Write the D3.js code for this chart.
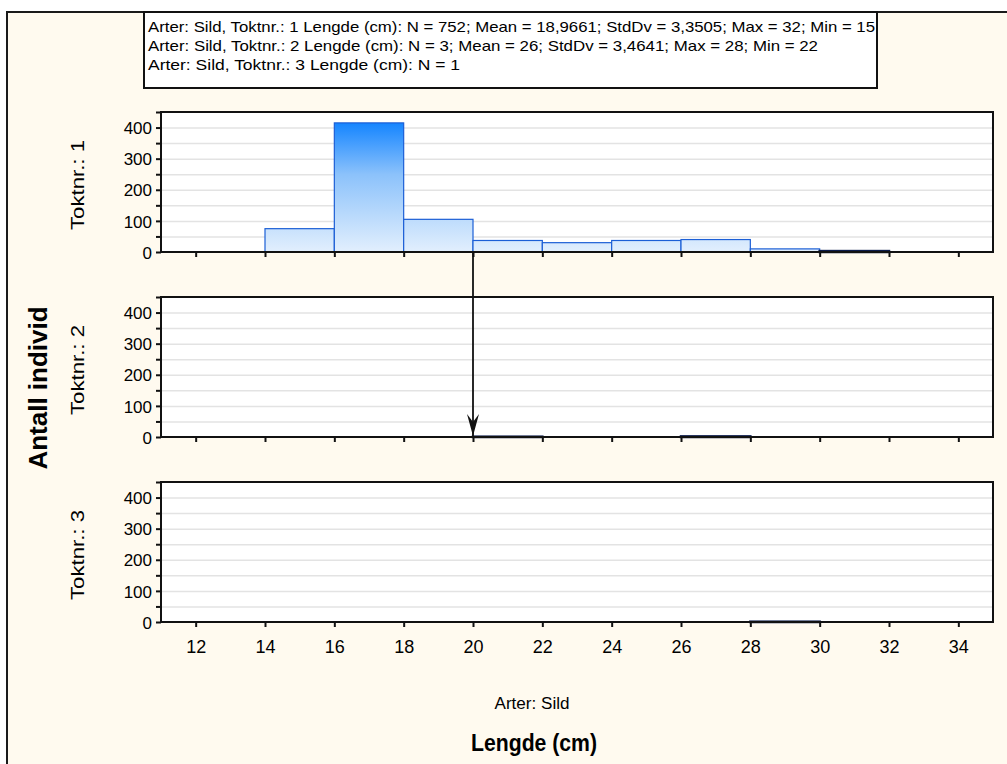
<!DOCTYPE html>
<html><head><meta charset="utf-8">
<script src="https://cdn.jsdelivr.net/npm/d3@7"></script>
<style>html,body{margin:0;padding:0;background:#fff;}svg{display:block;font-family:Arial,"Liberation Sans",sans-serif;}</style>
</head><body>
<script>
// ---- data ----
const binStarts = [12,14,16,18,20,22,24,26,28,30,32];
const binWidth = 2;
const panelNames = ["Toktnr.: 1","Toktnr.: 2","Toktnr.: 3"];
const toktnr1 = [0,75,415,105,37,30,37,40,10,3,0];
const toktnr2 = [0,0,0,0,1,0,0,2,0,0,0];
const toktnr3 = [0,0,0,0,0,0,0,0,1,0,0];
const xTicks = [12,14,16,18,20,22,24,26,28,30,32,34];
const yTickLabels = [0,100,200,300,400];
const legendLines = [
  "Arter: Sild, Toktnr.: 1 Lengde (cm):   N = 752; Mean = 18,9661; StdDv = 3,3505; Max = 32; Min = 15",
  "Arter: Sild, Toktnr.: 2 Lengde (cm):   N = 3; Mean = 26; StdDv = 3,4641; Max = 28; Min = 22",
  "Arter: Sild, Toktnr.: 3 Lengde (cm):  N = 1"
];
const legendWidths = [727, 670, 312];
const xTitle = "Lengde (cm)";
const subTitle = "Arter: Sild";
const yTitle = "Antall individ";
const arrowAt = 20;

const series = [toktnr1, toktnr2, toktnr3];
const W = 1007, H = 764;
const svg = d3.select("body").append("svg").attr("width", W).attr("height", H);

// background frame
svg.append("rect").attr("x",0).attr("y",0).attr("width",W).attr("height",H).attr("fill","#fff");
svg.append("rect").attr("x",7).attr("y",12).attr("width",W+10).attr("height",H+10)
  .attr("fill","#fffaef").attr("stroke","#1a1a1a").attr("stroke-width",2);

const left = 161, right = 993, pH = 140;
const panelTops = [112, 297, 482];
const x = d3.scaleLinear().domain([11,35]).range([left,right]);

const defs = svg.append("defs");
defs.append("marker").attr("id","arrowhead").attr("viewBox","0 0 12 22").attr("refX",6).attr("refY",22)
  .attr("markerWidth",12).attr("markerHeight",22).attr("markerUnits","userSpaceOnUse").attr("orient","0")
  .append("path").attr("d","M0,0 L6,8 L12,0 L6,22 Z").attr("fill","#111");

series.forEach((vals, i) => {
  const top = panelTops[i];
  const y = d3.scaleLinear().domain([0,450]).range([top+pH, top]);
  const g = svg.append("g");
  g.append("rect").attr("x",left).attr("y",top).attr("width",right-left).attr("height",pH).attr("fill","#fff");
  // grid
  g.selectAll("line.grid").data(d3.range(50,450,50)).enter().append("line")
    .attr("x1",left).attr("x2",right).attr("y1",d=>y(d)+0.5).attr("y2",d=>y(d)+0.5)
    .attr("stroke","#e3e3e3").attr("stroke-width",1.5);
  // gradient
  const gid = "grad"+i;
  const lg = defs.append("linearGradient").attr("id",gid).attr("gradientUnits","userSpaceOnUse")
    .attr("x1",0).attr("x2",0).attr("y1",y(0)).attr("y2",y(d3.max(toktnr1)));
  lg.append("stop").attr("offset","0%").attr("stop-color","#e2effd");
  lg.append("stop").attr("offset","60%").attr("stop-color","#8cc2fb");
  lg.append("stop").attr("offset","100%").attr("stop-color","#1585ff");
  const bars = binStarts.map((b,j)=>({b, v: vals[j]})).filter(d=>d.v>0);
  g.selectAll("rect.bar").data(bars).enter().append("rect")
    .attr("x",d=>x(d.b)).attr("width",d=>x(d.b+binWidth)-x(d.b))
    .attr("y",d=>y(d.v)).attr("height",d=>y(0)-y(d.v))
    .attr("fill",`url(#${gid})`)
    .attr("stroke",d=> (y(0)-y(d.v))<3 ? "#0a1a4a" : "#1c5fd6")
    .attr("stroke-width",d=> (y(0)-y(d.v))<3 ? 2.5 : 1.2);
  // frame
  g.append("rect").attr("x",left).attr("y",top).attr("width",right-left).attr("height",pH)
    .attr("fill","none").attr("stroke","#111").attr("stroke-width",2);
  // y axis
  const yAxis = d3.axisLeft(y).tickValues(d3.range(0,451,50)).tickSize(5)
    .tickFormat(d => yTickLabels.includes(d) ? d : "");
  const ya = g.append("g").attr("transform",`translate(${left},0)`).call(yAxis);
  ya.select(".domain").remove();
  ya.selectAll("line").attr("stroke","#111").attr("stroke-width",2);
  ya.selectAll("text").attr("font-size",17).attr("fill","#000").attr("x",-9).attr("dy","0.36em");
  // x axis ticks
  const xAxis = d3.axisBottom(x).tickValues(xTicks).tickSize(5).tickFormat(i===2 ? d3.format("d") : "");
  const xa = g.append("g").attr("transform",`translate(0,${top+pH})`).call(xAxis);
  xa.select(".domain").remove();
  xa.selectAll("line").attr("stroke","#111").attr("stroke-width",2);
  xa.selectAll("text").attr("font-size",18).attr("fill","#000").attr("y",18);
  // panel label
  g.append("text").attr("transform",`translate(84,${top+pH/2+3}) rotate(-90)`)
    .attr("text-anchor","middle").attr("font-size",17.5).attr("fill","#000")
    .attr("textLength",90).attr("lengthAdjust","spacingAndGlyphs").text(panelNames[i]);
});

// arrow
svg.append("line").attr("x1",x(arrowAt)).attr("x2",x(arrowAt))
  .attr("y1",panelTops[0]+pH).attr("y2",panelTops[1]+pH-1)
  .attr("stroke","#111").attr("stroke-width",1.8).attr("marker-end","url(#arrowhead)");

// legend
svg.append("rect").attr("x",144).attr("y",12).attr("width",733).attr("height",76)
  .attr("fill","#fff").attr("stroke","#111").attr("stroke-width",2);
svg.selectAll("text.leg").data(legendLines).enter().append("text")
  .attr("x",148).attr("y",(d,i)=>32+i*19).attr("font-size",14.5).attr("fill","#000")
  .attr("textLength",(d,i)=>legendWidths[i]).attr("lengthAdjust","spacingAndGlyphs").text(d=>d);

// titles
svg.append("text").attr("x",532).attr("y",709).attr("text-anchor","middle").attr("font-size",16)
  .attr("textLength",75).attr("lengthAdjust","spacingAndGlyphs").text(subTitle);
svg.append("text").attr("x",534).attr("y",751).attr("text-anchor","middle").attr("font-size",23).attr("font-weight","bold")
  .attr("textLength",126).attr("lengthAdjust","spacingAndGlyphs").text(xTitle);
svg.append("text").attr("transform",`translate(47,388) rotate(-90)`).attr("text-anchor","middle")
  .attr("font-size",26).attr("font-weight","bold").text(yTitle);
</script>
</body></html>
